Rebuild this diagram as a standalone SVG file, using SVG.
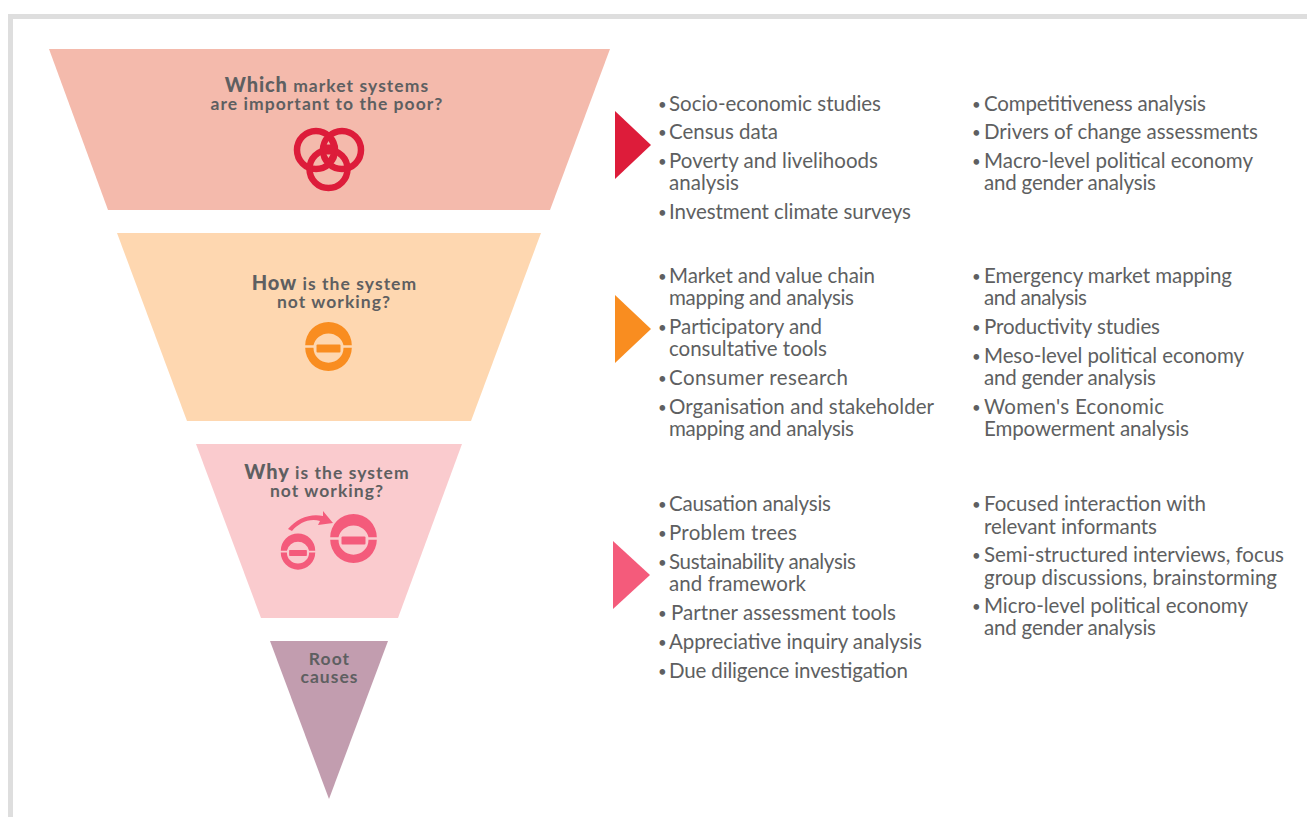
<svg xmlns="http://www.w3.org/2000/svg" width="1307" height="817" viewBox="0 0 1307 817">
<style>
text{font-family:Lato,"Open Sans","Liberation Sans",sans-serif;fill:#5e5f61}
.t{font-size:17.500px;font-weight:700;text-anchor:middle;letter-spacing:1.050px}
.b{font-weight:900;font-size:20px;letter-spacing:.900px}
.l{font-size:20.500px}
.d{font-size:15px;transform:translateY(-1.500px)}
</style>
<defs><g id="minus"><path d="M-23.300-3.200A23.300 23.300 0 0 1 23.300-3.200H15A15.400 15.400 0 0 0-15-3.200Z"/><path d="M-23.300-.8A23.300 23.300 0 1 0 23.300-.8H15A15 15 0 1 1-15-.8Z"/><rect x="-12" y="-4" width="24" height="8" rx="1"/></g></defs>
<rect width="1307" height="817" fill="#fff"/>
<path d="M8 817V14H1307V19H13V817Z" fill="#dedede"/>
<g id="funnel-1"><polygon points="49,49 610,49 550,210 108,210" fill="#f4baac"/>
<text class="t"><tspan x="327" y="92"><tspan class="b">Which</tspan> market systems</tspan><tspan x="327" y="110">are important to the poor?</tspan></text>
<g fill="none" stroke="#dd1c3a" stroke-width="6.500"><circle cx="316" cy="150" r="19"/><circle cx="342" cy="150" r="19"/><circle cx="328.500" cy="169" r="19"/></g>
<path d="M329 136A19 19 0 0 1 329 164A19 19 0 0 1 329 136Z" fill="#dd1c3a"/><path d="M328.500 141l1.800 3.500h-3.600ZM326.500 154.500h4l-2 3.500Z" fill="#f4baac"/></g>
<g id="funnel-2"><polygon points="117,233 541,233 471,421 187,421" fill="#fed7b0"/>
<text class="t"><tspan x="334.500" y="290"><tspan class="b">How</tspan> is the system</tspan><tspan x="334" y="308">not working?</tspan></text>
<use href="#minus" transform="translate(328.500 348.500)" fill="#f98d20"/></g>
<g id="funnel-3"><polygon points="196,444 462,444 398,618 261,618" fill="#facbce"/>
<text class="t"><tspan x="327" y="479"><tspan class="b">Why</tspan> is the system</tspan><tspan x="327" y="497">not working?</tspan></text>
<g fill="#f45b7b"><use href="#minus" transform="translate(353.500 540.500)"/><use href="#minus" transform="translate(298 553) scale(.74)"/><path d="M288 529C297 518 311 513 323 516L323 511L333 523L318 525L320 521C309 518 299 523 292 531Z"/></g></g>
<g id="funnel-4"><polygon points="270,641 388,641 329,799" fill="#c29daf"/>
<text class="t"><tspan x="329.500" y="665">Root</tspan><tspan x="329.500" y="683">causes</tspan></text></g>
<g id="arrows"><polygon points="615,111 651,145 615,179" fill="#dd1c3a"/><polygon points="615,295 651,329 615,363" fill="#f98d20"/><polygon points="613,541 650,575 613,609" fill="#f45b7b"/></g>
<g id="list-1">
<text class="d" x="658" y="111">•</text><text class="l" x="669" y="111" textLength="212">Socio-economic studies</text>
<text class="d" x="658" y="139">•</text><text class="l" x="669" y="139" textLength="109">Census data</text>
<text class="d" x="658" y="168">•</text><text class="l" x="669" y="168" textLength="209">Poverty and livelihoods</text><text class="l" x="669" y="190" textLength="70">analysis</text>
<text class="d" x="658" y="219">•</text><text class="l" x="669" y="219" textLength="242">Investment climate surveys</text>
<text class="d" x="972" y="111">•</text><text class="l" x="984" y="111" textLength="222">Competitiveness analysis</text>
<text class="d" x="972" y="139">•</text><text class="l" x="984" y="139" textLength="274">Drivers of change assessments</text>
<text class="d" x="972" y="168">•</text><text class="l" x="984" y="168" textLength="269">Macro-level political economy</text><text class="l" x="984" y="190" textLength="172">and gender analysis</text>
</g>
<g id="list-2">
<text class="d" x="658" y="283">•</text><text class="l" x="669" y="283" textLength="206">Market and value chain</text><text class="l" x="669" y="305" textLength="185">mapping and analysis</text>
<text class="d" x="658" y="334">•</text><text class="l" x="669" y="334" textLength="153">Participatory and</text><text class="l" x="669" y="356" textLength="158">consultative tools</text>
<text class="d" x="658" y="385">•</text><text class="l" x="669" y="385" textLength="179">Consumer research</text>
<text class="d" x="658" y="414">•</text><text class="l" x="669" y="414" textLength="265">Organisation and stakeholder</text><text class="l" x="669" y="436" textLength="185">mapping and analysis</text>
<text class="d" x="972" y="283">•</text><text class="l" x="984" y="283" textLength="248">Emergency market mapping</text><text class="l" x="984" y="305" textLength="103">and analysis</text>
<text class="d" x="972" y="334">•</text><text class="l" x="984" y="334" textLength="176">Productivity studies</text>
<text class="d" x="972" y="363">•</text><text class="l" x="984" y="363" textLength="260">Meso-level political economy</text><text class="l" x="984" y="385" textLength="172">and gender analysis</text>
<text class="d" x="972" y="414">•</text><text class="l" x="984" y="414" textLength="180">Women's Economic</text><text class="l" x="984" y="436" textLength="205">Empowerment analysis</text>
</g>
<g id="list-3">
<text class="d" x="658" y="511">•</text><text class="l" x="669" y="511" textLength="162">Causation analysis</text>
<text class="d" x="658" y="540">•</text><text class="l" x="669" y="540" textLength="128">Problem trees</text>
<text class="d" x="658" y="569">•</text><text class="l" x="669" y="569" textLength="187">Sustainability analysis</text><text class="l" x="669" y="591" textLength="137">and framework</text>
<text class="d" x="658" y="620">•</text><text class="l" x="671" y="620" textLength="225">Partner assessment tools</text>
<text class="d" x="658" y="649">•</text><text class="l" x="669" y="649" textLength="253">Appreciative inquiry analysis</text>
<text class="d" x="658" y="678">•</text><text class="l" x="669" y="678" textLength="239">Due diligence investigation</text>
<text class="d" x="972" y="511">•</text><text class="l" x="984" y="511" textLength="222">Focused interaction with</text><text class="l" x="984" y="534" textLength="173">relevant informants</text>
<text class="d" x="972" y="562">•</text><text class="l" x="984" y="562" textLength="300">Semi-structured interviews, focus</text><text class="l" x="984" y="585" textLength="293">group discussions, brainstorming</text>
<text class="d" x="972" y="613">•</text><text class="l" x="984" y="613" textLength="264">Micro-level political economy</text><text class="l" x="984" y="635" textLength="172">and gender analysis</text>
</g>
</svg>
